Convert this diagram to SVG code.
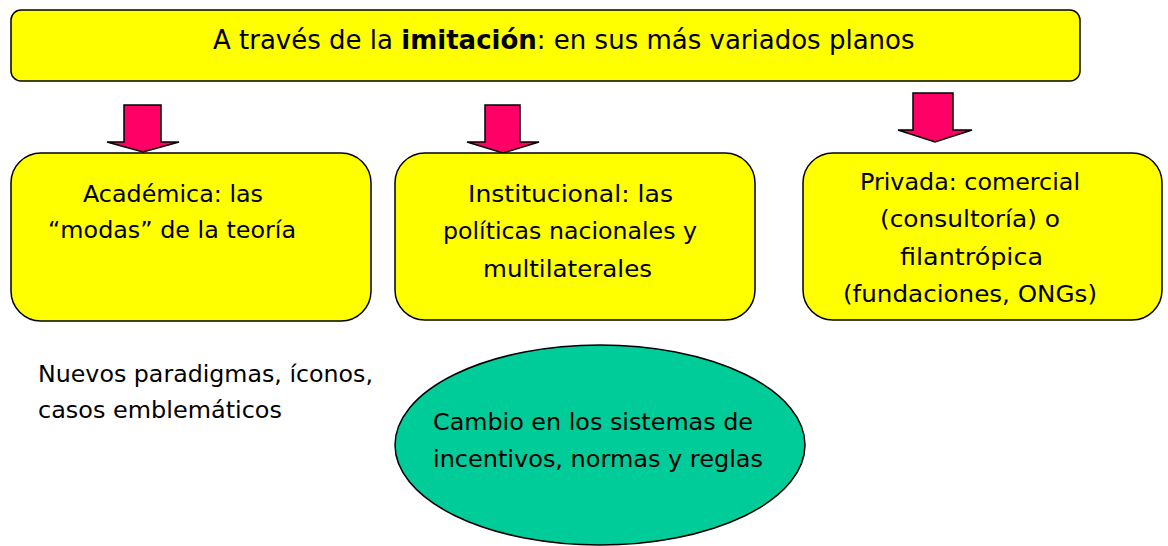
<svg xmlns="http://www.w3.org/2000/svg" width="1168" height="546" viewBox="0 0 1168 546">
<style>
.box{fill:#FFFF00;stroke:#000;stroke-width:1.5}
.arr{fill:#FF0066;stroke:#000;stroke-width:1.5;stroke-linejoin:miter}
.ell{fill:#00CC99;stroke:#000;stroke-width:1.5}
text{font-family:"DejaVu Sans","Liberation Sans",sans-serif;fill:#000}
.t{font-size:26px}
.b{font-size:23.5px}
</style>
<rect width="1168" height="546" fill="#fff"/>
<g id="top">
<rect class="box" x="11" y="10" width="1069" height="71" rx="10"/>
<text class="t" x="213" y="49">A través de la <tspan font-weight="bold">imitación</tspan>: en sus más variados planos</text>
</g>
<g id="connectors">
<path class="arr" d="M124,105 H161 V142 H179 L143,152 L107,142 H124 Z"/>
<path class="arr" d="M485,105 H520 V142 H539 L503,153 L467,142 H485 Z"/>
<path class="arr" d="M913,93 H953 V130 H972 L935,142 L898,130 H913 Z"/>
</g>
<g id="academica">
<rect class="box" x="11" y="153" width="360" height="168" rx="30"/>
<text class="b" x="83" y="202" textLength="180" lengthAdjust="spacingAndGlyphs">Académica: las</text>
<text class="b" x="48" y="238" textLength="248" lengthAdjust="spacingAndGlyphs">“modas” de la teoría</text>
</g>
<g id="institucional">
<rect class="box" x="395" y="153" width="360" height="167" rx="30"/>
<text class="b" x="468" y="202" textLength="205" lengthAdjust="spacingAndGlyphs">Institucional: las</text>
<text class="b" x="443" y="239" textLength="254" lengthAdjust="spacingAndGlyphs">políticas nacionales y</text>
<text class="b" x="483" y="277" textLength="169" lengthAdjust="spacingAndGlyphs">multilaterales</text>
</g>
<g id="privada">
<rect class="box" x="803" y="153" width="359" height="167" rx="30"/>
<text class="b" x="860" y="190" textLength="220" lengthAdjust="spacingAndGlyphs">Privada: comercial</text>
<text class="b" x="880" y="227" textLength="180" lengthAdjust="spacingAndGlyphs">(consultoría) o</text>
<text class="b" x="900" y="265" textLength="143" lengthAdjust="spacingAndGlyphs">filantrópica</text>
<text class="b" x="843" y="302" textLength="254" lengthAdjust="spacingAndGlyphs">(fundaciones, ONGs)</text>
</g>
<g id="nuevos">
<text class="b" x="38" y="382" textLength="335" lengthAdjust="spacingAndGlyphs">Nuevos paradigmas, íconos,</text>
<text class="b" x="38" y="418" textLength="244" lengthAdjust="spacingAndGlyphs">casos emblemáticos</text>
</g>
<g id="cambio">
<ellipse class="ell" cx="600" cy="445" rx="205" ry="100"/>
<text class="b" x="433" y="430" textLength="320" lengthAdjust="spacingAndGlyphs">Cambio en los sistemas de</text>
<text class="b" x="433" y="467" textLength="330" lengthAdjust="spacingAndGlyphs">incentivos, normas y reglas</text>
</g>
</svg>
